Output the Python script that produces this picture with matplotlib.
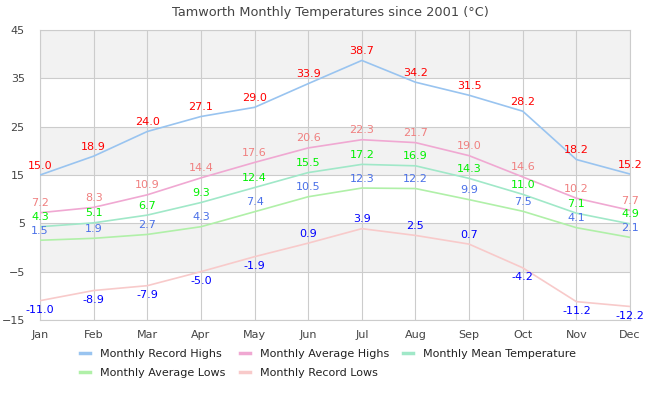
import matplotlib
matplotlib.use('Agg')
import matplotlib.pyplot as plt

# Tamworth monthly temperatures since 2001

months = ['Jan', 'Feb', 'Mar', 'Apr', 'May', 'Jun', 'Jul', 'Aug', 'Sep', 'Oct', 'Nov', 'Dec']
record_highs = [15.0, 18.9, 24.0, 27.1, 29.0, 33.9, 38.7, 34.2, 31.5, 28.2, 18.2, 15.2]
average_highs = [7.2, 8.3, 10.9, 14.4, 17.6, 20.6, 22.3, 21.7, 19.0, 14.6, 10.2, 7.7]
mean_temp = [4.3, 5.1, 6.7, 9.3, 12.4, 15.5, 17.2, 16.9, 14.3, 11.0, 7.1, 4.9]
average_lows = [1.5, 1.9, 2.7, 4.3, 7.4, 10.5, 12.3, 12.2, 9.9, 7.5, 4.1, 2.1]
record_lows = [-11.0, -8.9, -7.9, -5.0, -1.9, 0.9, 3.9, 2.5, 0.7, -4.2, -11.2, -12.2]
y_ticks = [-15, -5, 5, 15, 25, 35, 45]

# (name, values, line colour, label colour)
series = [
    ('Monthly Record Highs', record_highs, '#99c4f0', '#ff0000'),
    ('Monthly Average Highs', average_highs, '#f0a8d2', '#f08080'),
    ('Monthly Mean Temperature', mean_temp, '#a0e8c8', '#00f000'),
    ('Monthly Average Lows', average_lows, '#b0f0a8', '#4a70e8'),
    ('Monthly Record Lows', record_lows, '#f8caca', '#0000ff'),
]

fig = plt.figure(figsize=(6.6, 4.0), dpi=100)
ax = fig.add_axes([40 / 660, 80 / 400, 590 / 660, 290 / 400])

x = list(range(len(months)))

# alternating bands
for lo in [-5, 15, 35]:
    ax.axhspan(lo, lo + 10, color='#f2f2f2', zorder=0, lw=0)

handles = {}
for name, vals, lc, tc in series:
    h, = ax.plot(x, vals, color=lc, lw=1.2, zorder=3, label=name)
    handles[name] = h
    for xi, v in zip(x, vals):
        off = 6.8 if v >= 0 else -6.8
        ax.annotate('%.1f' % v, (xi, v), xytext=(0, off), textcoords='offset points',
                    ha='center', va='center', color=tc, fontsize=8,
                    annotation_clip=False, zorder=5)

ax.set_xlim(0, 11)
ax.set_ylim(-15, 45)
ax.set_xticks(x)
ax.set_xticklabels(months)
ax.set_yticks(y_ticks)
ax.grid(True, color='#cccccc', lw=0.8, zorder=1)
ax.set_axisbelow(True)
ax.tick_params(axis='both', length=0, labelsize=8, labelcolor='#444444')
ax.tick_params(axis='y', pad=11)
ax.tick_params(axis='x', pad=7)
for s in ax.spines.values():
    s.set_color('#cccccc')
    s.set_linewidth(0.8)

fig.suptitle('Tamworth Monthly Temperatures since 2001 (°C)', y=0.985,
             fontsize=9.3, color='#444444')

order = ['Monthly Record Highs', 'Monthly Average Lows', 'Monthly Average Highs',
         'Monthly Record Lows', 'Monthly Mean Temperature']
leg = fig.legend([handles[n] for n in order], order, loc='upper center',
                 bbox_to_anchor=(0.497, 0.152), ncol=3, frameon=False, fontsize=8,
                 handlelength=0.9, handletextpad=0.9, columnspacing=1.3,
                 labelspacing=0.8)
for t in leg.get_texts():
    t.set_color('#222222')
for l in leg.get_lines():
    l.set_linewidth(2.5)

fig.savefig('out.png', dpi=100)
